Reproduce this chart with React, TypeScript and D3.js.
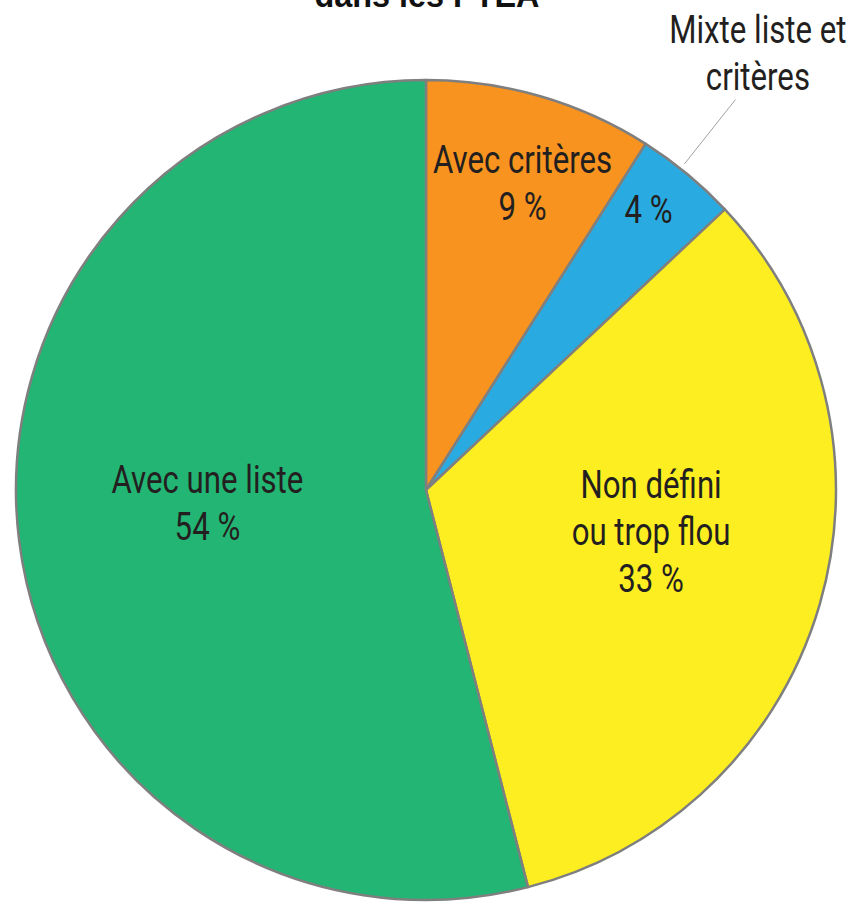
import React from "react";
import * as d3 from "d3";

const categories = ["Avec critères", "Mixte liste et critères", "Non défini ou trop flou", "Avec une liste"];
const values = [9, 4, 33, 54];
const colors = ["#F7931E", "#29ABE2", "#FCEE21", "#23B574"];
const insideLabels = [["Avec critères", "9 %"], ["4 %"], ["Non défini", "ou trop flou", "33 %"], ["Avec une liste", "54 %"]];
const labelRadius = [0.787, 0.874, 0.558, 0.534];
const labelAngle = [17.4, 38.4, 100.3, 266.7];
const outsideLabel = ["Mixte liste et", "critères"];
const title = "dans les PTEA";

const W = 853, H = 902;
const cx = 426, cy = 490, R = 410;
const FONT = "Roboto, 'Liberation Sans', sans-serif";
const FS = 39;
const SX = 0.8;
const LH = 47;
const HALF_CAP = 14;

function polar(r: number, deg: number): [number, number] {
  const a = (deg * Math.PI) / 180;
  return [Math.sin(a) * r, -Math.cos(a) * r];
}

function Label({ x, y, lines }: { x: number; y: number; lines: string[] }) {
  const y0 = -((lines.length - 1) * LH) / 2 + HALF_CAP;
  return (
    <g transform={`translate(${x},${y}) scale(${SX},1)`}>
      <text textAnchor="middle" fontFamily={FONT} fontWeight={400} fontSize={FS} fill="#231F20">
        {lines.map((l, j) => (
          <tspan key={j} x={0} y={y0 + j * LH}>{l}</tspan>
        ))}
      </text>
    </g>
  );
}

export default function App() {
  const pie = d3.pie<number>().sort(null).value((d) => d)(values);
  const arc = d3.arc<d3.PieArcDatum<number>>().innerRadius(0).outerRadius(R);
  const blue = pie[1];
  const midDeg = (((blue.startAngle + blue.endAngle) / 2) * 180) / Math.PI;
  const lead0 = polar(R * 1.015, midDeg - 1.2);
  const lead1 = polar(R * 1.215, midDeg - 1.2);
  const outPos = polar(R * 1.339, midDeg - 2.4);
  return (
    <svg width={W} height={H} style={{ position: "absolute", left: 0, top: 0, background: "#fff" }}>
      <g transform={`translate(427,7) scale(0.9,1)`}>
        <text x={0} y={0} textAnchor="middle" fontFamily="'Liberation Sans', Arial, sans-serif" fontWeight="bold" fontSize={36} fill="#111">{title}</text>
      </g>
      <g transform={`translate(${cx},${cy})`}>
        {pie.map((p, i) => (
          <path key={i} d={arc(p) || ""} fill={colors[i]} stroke="#7f7f7f" strokeWidth={2.5} strokeLinejoin="round" />
        ))}
        {insideLabels.map((lines, i) => {
          const [x, y] = polar(R * labelRadius[i], labelAngle[i]);
          return <Label key={i} x={x} y={y} lines={lines} />;
        })}
        <line x1={lead0[0]} y1={lead0[1]} x2={lead1[0]} y2={lead1[1]} stroke="#a0a0a0" strokeWidth={1} />
        <Label x={outPos[0]} y={outPos[1]} lines={outsideLabel} />
      </g>
    </svg>
  );
}
